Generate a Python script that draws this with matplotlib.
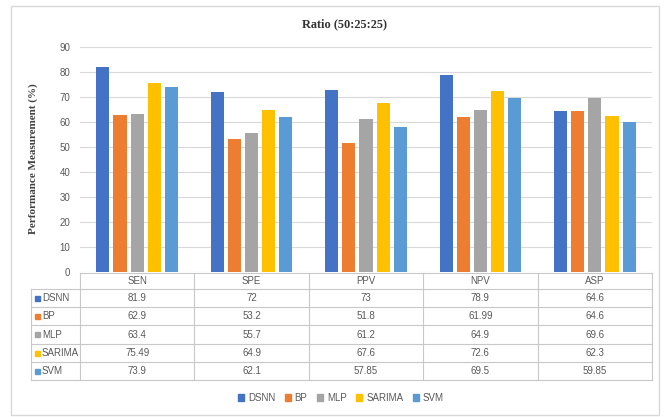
import matplotlib
matplotlib.use("Agg")
import matplotlib.pyplot as plt
import numpy as np
from matplotlib.lines import Line2D
from matplotlib.patches import Rectangle

categories = ["SEN", "SPE", "PPV", "NPV", "ASP"]
models = ["DSNN", "BP", "MLP", "SARIMA", "SVM"]
dsnn = [81.9, 72, 73, 78.9, 64.6]
bp = [62.9, 53.2, 51.8, 61.99, 64.6]
mlp = [63.4, 55.7, 61.2, 64.9, 69.6]
sarima = [75.49, 64.9, 67.6, 72.6, 62.3]
svm = [73.9, 62.1, 57.85, 69.5, 59.85]
series = [dsnn, bp, mlp, sarima, svm]
labels = [["81.9", "72", "73", "78.9", "64.6"],
          ["62.9", "53.2", "51.8", "61.99", "64.6"],
          ["63.4", "55.7", "61.2", "64.9", "69.6"],
          ["75.49", "64.9", "67.6", "72.6", "62.3"],
          ["73.9", "62.1", "57.85", "69.5", "59.85"]]
colors = ["#4472C4", "#ED7D31", "#A5A5A5", "#FFC000", "#5B9BD5"]

W, H = 665, 417
TXT = "#595959"
GRID = "#D9D9D9"
LINE = "#C8C8C8"
SANS = "Liberation Sans"
SERIF = "Liberation Serif"


def fx(x):
    return x / W


def fy(y):
    return 1 - y / H


fig = plt.figure(figsize=(W / 100, H / 100), dpi=100)

# plot area, pixel bounds
ax_l, ax_r, ax_t, ax_b = 80, 652, 47, 272
ax = fig.add_axes([fx(ax_l), fy(ax_b), fx(ax_r - ax_l), (ax_b - ax_t) / H])

x = np.arange(len(categories))
step = 0.15
for i, (vals, c) in enumerate(zip(series, colors)):
    ax.bar(x + (i - 2) * step, vals, width=0.115, color=c, zorder=3)

ax.set_xlim(-0.5, len(categories) - 0.5)
ax.set_ylim(0, 90)
ax.set_yticks(range(0, 91, 10))
ax.yaxis.grid(True, color=GRID, linewidth=0.8, zorder=0)
ax.set_xticks([])
ax.tick_params(axis="y", length=0, pad=7, labelsize=7, labelcolor=TXT)
for t in ax.get_yticklabels():
    t.set_fontfamily(SANS)
for s in ax.spines.values():
    s.set_visible(False)

fig.text(fx(345), fy(24), "Ratio (50:25:25)", ha="center", va="center",
         fontsize=8.8, fontweight="bold", family=SERIF, color="#333333")
fig.text(fx(33), fy(159), "Performance Measurement (%)", ha="center",
         va="center", rotation=90, fontsize=8, fontweight="bold",
         family=SERIF, color="#404040")

# data table under the plot
tab_l = 31
col_w = (ax_r - ax_l) / len(categories)
rows_y = [273, 289, 307, 325, 344, 362, 380]


def hline(y, x0, x1):
    fig.add_artist(Line2D([fx(x0), fx(x1)], [fy(y), fy(y)], color=LINE,
                          linewidth=0.8))


def vline(x0, y0, y1):
    fig.add_artist(Line2D([fx(x0), fx(x0)], [fy(y0), fy(y1)], color=LINE,
                          linewidth=0.8))


hline(rows_y[0], ax_l, ax_r)
for y in rows_y[1:]:
    hline(y, tab_l, ax_r)
vline(tab_l, rows_y[1], rows_y[-1])
for j in range(len(categories) + 1):
    vline(ax_l + j * col_w, rows_y[0], rows_y[-1])

for j, cat in enumerate(categories):
    fig.text(fx(ax_l + (j + 0.5) * col_w), fy((rows_y[0] + rows_y[1]) / 2),
             cat, ha="center", va="center", fontsize=7, family=SANS,
             color=TXT)

for i, name in enumerate(models):
    yc = (rows_y[i + 1] + rows_y[i + 2]) / 2
    fig.add_artist(Rectangle((fx(35), fy(yc + 2.5)), fx(5), 5 / H,
                             color=colors[i]))
    fig.text(fx(42), fy(yc), name, ha="left", va="center", fontsize=7,
             family=SANS, color=TXT)
    for j in range(len(categories)):
        fig.text(fx(ax_l + (j + 0.5) * col_w), fy(yc), labels[i][j],
                 ha="center", va="center", fontsize=7, family=SANS,
                 color=TXT)

# legend
handles = [Rectangle((0, 0), 1, 1, color=c) for c in colors]
fig.legend(handles, models, loc="center", bbox_to_anchor=(fx(341), fy(398)),
           ncol=5, frameon=False, handlelength=0.6, handleheight=0.6,
           handletextpad=0.4, columnspacing=1.0,
           prop={"family": SANS, "size": 7}, labelcolor=TXT)

# chart border
fig.add_artist(Rectangle((fx(11), fy(415)), fx(648), 409 / H, fill=False,
                         edgecolor=GRID, linewidth=1))

fig.savefig("out.png", dpi=100)
